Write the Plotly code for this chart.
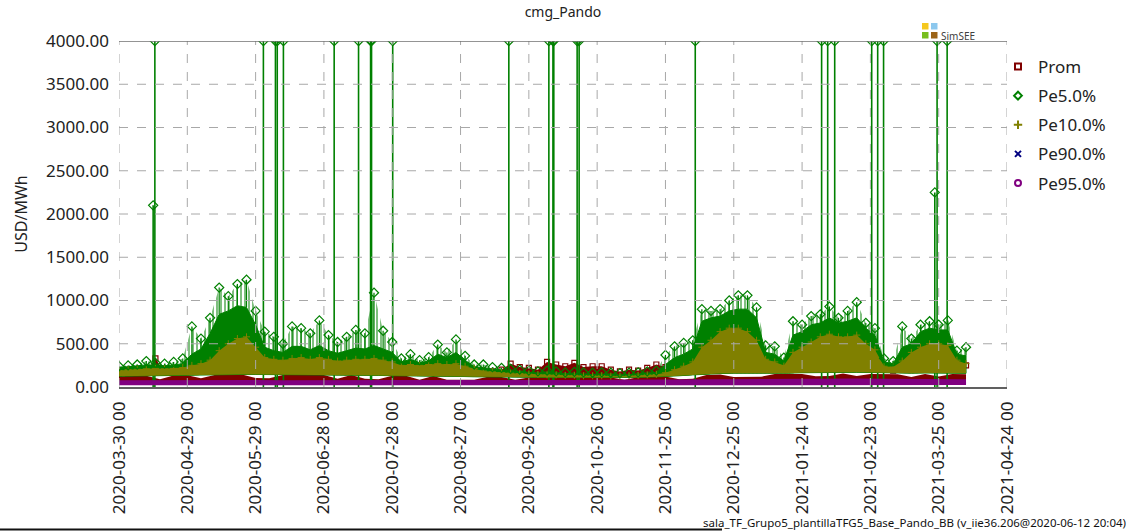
import pandas as pd
import plotly.graph_objects as go

START = pd.Timestamp("2020-03-30")
END = pd.Timestamp("2021-04-24")

# ---- Pe5.0% (green): dense upper envelope and peak tops, one value every 4 days
pe5_peak = [240, 250, 260, 300, 280, 270, 290, 330,
            700, 560, 800, 1150, 1050, 1190, 1240, 880,
            640, 580, 500, 700, 680, 620, 770, 600,
            520, 580, 660, 620, 1090, 650, 520,
            330, 380, 310, 345, 490, 400, 550, 360, 260,
            260, 230, 220, 210, 200, 190, 180, 190, 180, 170,
            175, 170, 165, 170, 165, 160, 165, 170, 180, 190,
            370, 470, 510, 540,
            900, 880, 900, 1000, 1060, 1060, 920,
            480, 470, 340, 760,
            720, 820, 840, 930, 800, 880, 980, 740, 680,
            330, 300, 700,
            560, 720, 760, 720, 770, 420, 460]
pe5_body = [225, 235, 245, 255, 255, 245, 255, 270,
            380, 440, 620, 840, 880, 940, 920, 720,
            460, 420, 400, 470, 470, 430, 480, 420,
            390, 420, 450, 440, 480, 440, 400,
            290, 320, 280, 300, 380, 340, 400, 310, 235,
            225, 205, 195, 185, 178, 172, 162, 168, 162, 152,
            152, 148, 142, 148, 142, 138, 142, 148, 158, 168,
            260, 340, 380, 440,
            760, 800, 820, 880, 900, 900, 800,
            400, 380, 300, 600,
            640, 720, 740, 800, 740, 760, 800, 680, 600,
            290, 270, 460,
            500, 640, 680, 660, 660, 380, 360]

# Pe5.0% hours that hit the price cap (and two partial peaks)
pe5_spike_times = ["2020-04-14 00:00", "2020-04-14 18:00", "2020-06-01 10:00",
                   "2020-06-06 17:00", "2020-06-07 12:00", "2020-06-10 05:00",
                   "2020-07-02 12:00", "2020-07-13 05:00", "2020-07-18 12:00",
                   "2020-07-18 22:00", "2020-07-28 05:00", "2020-09-17 05:00",
                   "2020-10-04 19:00", "2020-10-06 14:00", "2020-10-06 23:00",
                   "2020-10-17 05:00", "2020-10-18 02:00", "2020-12-08 02:00",
                   "2021-02-01 14:00", "2021-02-04 06:00", "2021-02-07 08:00",
                   "2021-02-23 14:00", "2021-02-26 05:00", "2021-02-28 19:00",
                   "2021-03-23 07:00", "2021-03-24 07:00", "2021-03-28 17:00"]
pe5_spike_values = [2100, 4000, 4000,
                    4000, 4000, 4000,
                    4000, 4000, 4000,
                    4000, 4000, 4000,
                    4000, 4000, 4000,
                    4000, 4000, 4000,
                    4000, 4000, 4000,
                    4000, 4000, 4000,
                    2250, 4000, 4000]

# ---- Pe10.0% (olive): top every 4 days, bottom every 6 days
pe10_top = [190, 200, 205, 210, 215, 210, 215, 225,
            250, 270, 310, 420, 500, 560, 580, 460,
            340, 320, 310, 330, 340, 320, 340, 320,
            300, 310, 320, 320, 330, 310, 290,
            250, 260, 250, 260, 270, 260, 270, 240, 215,
            185, 175, 165, 160, 155, 150, 145, 140, 140, 135,
            135, 130, 130, 130, 125, 125, 130, 135, 140, 145,
            165, 200, 240, 290,
            460, 540, 640, 680, 680, 640, 540,
            320, 290, 250, 400,
            460, 520, 580, 610, 580, 580, 600, 500, 430,
            240, 230, 300,
            400, 460, 500, 500, 480, 310, 270]
pe10_low = [125, 125, 130, 130, 132, 135, 138, 140, 145,
            145, 145, 142, 140, 140, 140, 140, 138, 138, 136, 134, 130,
            130, 126, 126, 122, 122, 118, 118, 115, 115,
            110, 110, 110, 110, 110, 110, 110, 110, 112, 115, 120, 130, 140,
            150, 155, 160, 165, 165, 160, 160,
            165, 168, 170, 170, 170, 168, 162, 160,
            160, 162, 165, 162, 158]

# ---- Prom (dark red): highs every 4 days, lower band every 6 / 12 days
prom_top = [150, 150, 160, 170, 330, 170, 160, 170,
            180, 190, 200, 230, 240, 260, 310, 280,
            340, 260, 330, 240, 230, 240, 250, 310,
            230, 220, 280, 230, 260, 230, 310,
            190, 180, 175, 180, 190, 180, 185, 180, 170,
            190, 180, 200, 270, 230, 220, 200, 290, 260, 240,
            280, 230, 240, 240, 200, 180, 200, 190, 220, 260,
            230, 200, 220, 300,
            300, 320, 300, 330, 340, 320, 300,
            250, 230, 220, 280,
            300, 320, 300, 350, 300, 320, 330, 330, 300,
            200, 190, 220,
            260, 300, 330, 320, 330, 280, 250]
prom_band = [125, 125, 130, 90, 132, 135, 100, 140, 145,
             145, 105, 100, 140, 140, 140, 140, 95, 138, 95, 90, 130,
             130, 85, 126, 85, 85, 85, 118, 115, 85,
             110, 110, 110, 110, 110, 110, 110, 85, 112, 115, 120, 90, 95,
             140, 145, 115, 120, 118, 150, 150,
             150, 125, 128, 155, 128, 150, 150, 148,
             115, 150, 120, 150, 148]
prom_low = [52, 54, 53, 55, 54, 53, 54, 55, 53, 54, 55, 54, 53, 54, 55, 54,
            54, 56, 58, 60, 62, 64, 66, 66, 67, 66, 68, 66, 64, 63, 62, 60]

# ---- Pe90.0% / Pe95.0%: one value every 12 days
pe90_top = [62, 64, 63, 65, 66, 64, 63, 65, 64, 63, 64, 65, 63, 64, 65, 64,
            64, 66, 68, 70, 72, 75, 78, 80, 80, 82, 83, 81, 79, 78, 76, 75]
pe90_low = [32, 33, 32, 31, 32, 33, 32, 32, 31, 32, 33, 32, 32, 31, 32, 33,
            32, 33, 34, 35, 36, 37, 38, 38, 39, 38, 39, 38, 37, 37, 36, 36]
pe95_top = [78, 80, 79, 81, 80, 80, 79, 81, 80, 79, 80, 80, 79, 80, 80, 79,
            80, 82, 84, 86, 88, 92, 95, 97, 96, 98, 100, 97, 95, 94, 92, 90]
pe95_low = [20, 21, 20, 19, 20, 21, 20, 20, 19, 20, 21, 20, 20, 19, 20, 21,
            20, 20, 21, 22, 22, 23, 24, 24, 25, 24, 25, 24, 23, 23, 22, 22]

# ---- axes
x_tick_step_days = 30
y_ticks = [0, 500, 1000, 1500, 2000, 2500, 3000, 3500, 4000]

GREEN = "#008000"
OLIVE = "#808000"
DARKRED = "#800000"
NAVY = "#000080"
PURPLE = "#800080"
FONT = "Noto Sans"


def grid(step_days, n):
    return [START + pd.Timedelta(days=step_days * k) for k in range(n)]


t4 = grid(4, len(pe5_peak))
t6 = grid(6, len(pe10_low))
t12 = grid(12, len(pe95_top))


def band(x_top, y_top, x_bot, y_bot):
    xs = list(x_top) + list(x_bot)[::-1]
    ys = list(y_top) + list(y_bot)[::-1]
    return xs, ys


def area(xs, ys, color, **kw):
    return go.Scatter(x=xs, y=ys, mode="lines", fill="toself", fillcolor=color,
                      line=dict(width=0, color=color), hoverinfo="skip",
                      showlegend=False, **kw)


fig = go.Figure()

# Prom lower band and upper plateaus
fig.add_trace(area(*band(t6, prom_band, t12, prom_low), DARKRED))
fig.add_trace(area(*band(t4, prom_top, t6, pe10_low), DARKRED))
fig.add_trace(go.Scatter(x=t4, y=prom_top, mode="markers",
                         marker=dict(symbol="square-open", size=5, color=DARKRED,
                                     line=dict(width=1.2, color=DARKRED)),
                         hoverinfo="skip", showlegend=False))

# Pe5.0%: hatched up to the peaks, dense up to the body level
xs, ys = band(t4, pe5_peak, t6, pe10_low)
fig.add_trace(go.Scatter(x=xs, y=ys, mode="lines", fill="toself",
                         fillcolor="rgba(0,0,0,0)",
                         fillpattern=dict(shape="|", fgcolor=GREEN,
                                          bgcolor="rgba(0,0,0,0)", size=4,
                                          solidity=0.5),
                         line=dict(width=0), hoverinfo="skip", showlegend=False))
xs, ys = band(t4, pe5_body, t6, pe10_low)
fig.add_trace(go.Scatter(x=xs, y=ys, mode="lines", fill="toself",
                         fillcolor=GREEN,
                         line=dict(width=1, color=GREEN), hoverinfo="skip",
                         showlegend=False))

# Pe5.0% stems from body to peak
sx, sy = [], []
for t, b, p in zip(t4, pe5_body, pe5_peak):
    sx += [t, t, None]
    sy += [b, p, None]
fig.add_trace(go.Scatter(x=sx, y=sy, mode="lines", line=dict(width=1.2, color=GREEN),
                         hoverinfo="skip", showlegend=False))

# Pe5.0% spikes
kx, ky = [], []
for t, v in zip(pe5_spike_times, pe5_spike_values):
    kx += [t, t, None]
    ky += [0, v, None]
fig.add_trace(go.Scatter(x=kx, y=ky, mode="lines", line=dict(width=1.6, color=GREEN),
                         hoverinfo="skip", showlegend=False))

# Pe10.0%
fig.add_trace(area(*band(t4, pe10_top, t6, pe10_low), OLIVE))
fig.add_trace(go.Scatter(x=t4, y=pe10_top, mode="markers",
                         marker=dict(symbol="cross-thin", size=5, color=OLIVE,
                                     line=dict(width=1, color=OLIVE)),
                         hoverinfo="skip", showlegend=False))

# Pe90.0% and Pe95.0%
fig.add_trace(area(*band(t12, pe90_top, t12, pe90_low), NAVY))
fig.add_trace(area(*band(t12, pe95_top, t12, pe95_low), PURPLE))

# Pe5.0% markers on top
fig.add_trace(go.Scatter(x=t4, y=pe5_peak, mode="markers",
                         marker=dict(symbol="diamond-open", size=7, color=GREEN,
                                     line=dict(width=1.2, color=GREEN)),
                         hoverinfo="skip", showlegend=False))
fig.add_trace(go.Scatter(x=pe5_spike_times, y=pe5_spike_values, mode="markers",
                         marker=dict(symbol="diamond-open", size=7, color=GREEN,
                                     line=dict(width=1.2, color=GREEN)),
                         hoverinfo="skip", showlegend=False))

# legend entries
legend_items = [("Prom", "square-open", DARKRED),
                ("Pe5.0%", "diamond-open", GREEN),
                ("Pe10.0%", "cross-thin", OLIVE),
                ("Pe90.0%", "x-thin", NAVY),
                ("Pe95.0%", "circle-open", PURPLE)]
for name, sym, col in legend_items:
    fig.add_trace(go.Scatter(x=[None], y=[None], mode="markers", name=name,
                             legendgroup=name,
                             marker=dict(symbol=sym, size=6, color=col,
                                         line=dict(width=2, color=col))))

# ticks
n_ticks = int((END - START).days / x_tick_step_days) + 1
x_tickvals = [START + pd.Timedelta(days=x_tick_step_days * k) for k in range(n_ticks)]
x_ticktext = [d.strftime("%Y-%m-%d 00") for d in x_tickvals]

# grid drawn over the data
shapes = []
for d in x_tickvals:
    shapes.append(dict(type="line", xref="x", yref="y", x0=d, x1=d, y0=0, y1=4000,
                       line=dict(color="#A8A8A8", width=1, dash="dash"), layer="above"))
for v in y_ticks[1:-1]:
    shapes.append(dict(type="line", xref="x", yref="y", x0=START, x1=END, y0=v, y1=v,
                       line=dict(color="#A8A8A8", width=1, dash="dash"), layer="above"))
shapes.append(dict(type="line", xref="x", yref="y", x0=START, x1=END, y0=4000, y1=4000,
                   line=dict(color="#707070", width=1.5), layer="above"))


# SimSEE mark (pixel positions converted to paper units)
def px(x):
    return (x - 119) / 888


def py(y):
    return (387 - y) / 346


for (x0, y0, c) in [(922, 23, "#F5C81E"), (931, 23, "#8CC8EE"),
                    (922, 32, "#78BE1E"), (931, 32, "#9C6418")]:
    shapes.append(dict(type="rect", xref="paper", yref="paper",
                       x0=px(x0), x1=px(x0 + 6.5), y0=py(y0 + 6.5), y1=py(y0),
                       fillcolor=c, line=dict(width=0), layer="above"))
shapes.append(dict(type="line", xref="paper", yref="paper", x0=px(0), x1=px(722),
                   y0=py(529.5), y1=py(529.5), line=dict(color="#111111", width=2)))

annotations = [
    dict(text="SimSEE", xref="paper", yref="paper", x=px(939), y=py(35.5),
         xanchor="left", yanchor="middle", showarrow=False,
         font=dict(family=FONT, size=10, color="#404040")),
    dict(text="sala_TF_Grupo5_plantillaTFG5_Base_Pando_BB (v_iie36.206@2020-06-12 20:04)",
         xref="paper", yref="paper", x=px(1128), y=py(522), xanchor="right",
         yanchor="middle", showarrow=False,
         font=dict(family=FONT, size=11.5, color="#111111")),
]

fig.update_layout(
    width=1126, height=531,
    margin=dict(l=119, r=119, t=41, b=144),
    paper_bgcolor="white", plot_bgcolor="white",
    font=dict(family=FONT, size=17, color="#222222"),
    title=dict(text="cmg_Pando", x=0.5, xref="paper", xanchor="center",
               y=1 - 12 / 531, yref="container", yanchor="middle",
               font=dict(family=FONT, size=14, color="#222222")),
    legend=dict(x=px(998), y=py(49), xanchor="left", yanchor="top",
                font=dict(family=FONT, size=17, color="#222222"),
                bgcolor="rgba(0,0,0,0)", tracegroupgap=4, traceorder="grouped"),
    shapes=shapes, annotations=annotations,
    hovermode=False,
)
fig.update_xaxes(range=[START, END], tickvals=x_tickvals, ticktext=x_ticktext,
                 tickangle=-90, showgrid=False, zeroline=False,
                 showline=True, linecolor="#606060", linewidth=1.5,
                 ticks="", ticklabelstandoff=6, layer="above traces",
                 tickfont=dict(family=FONT, size=17, color="#222222"))
fig.update_yaxes(range=[0, 4000], tickvals=y_ticks,
                 ticktext=[f"{v:.2f}" for v in y_ticks],
                 showgrid=False, zeroline=False, showline=False, ticks="",
                 ticklabelstandoff=9,
                 title=dict(text="USD/MWh", standoff=14,
                            font=dict(family=FONT, size=16, color="#222222")),
                 tickfont=dict(family=FONT, size=17, color="#222222"))

fig.write_html("out.html")
